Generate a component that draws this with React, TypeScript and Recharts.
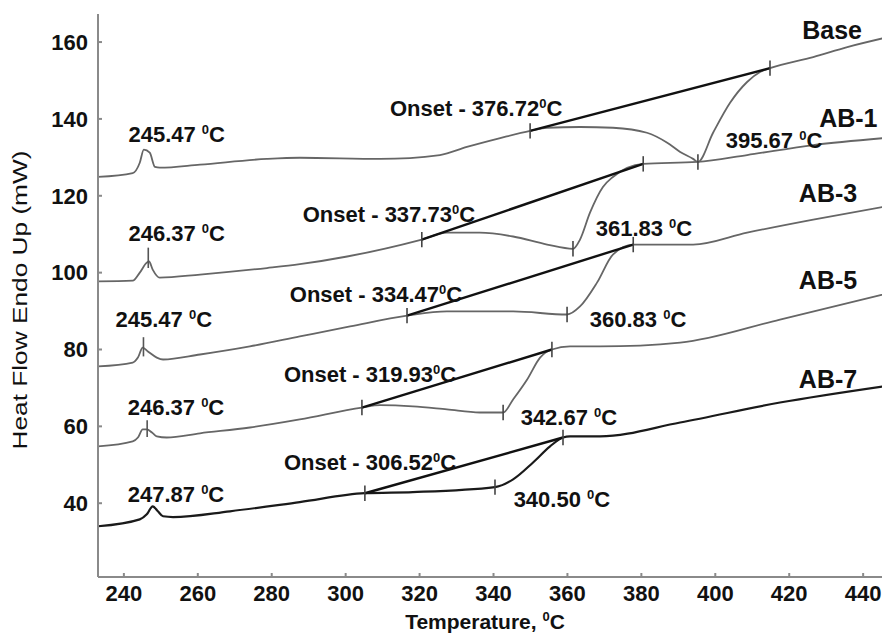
import React from 'react';
import { LineChart, Line, XAxis, YAxis, ReferenceLine, ReferenceDot } from 'recharts';

const xTicks = [240, 260, 280, 300, 320, 340, 360, 380, 400, 420, 440];
const yTicks = [40, 60, 80, 100, 120, 140, 160];

// DSC traces, [temperature, heat flow]
const baseCurve = [
  [233, 124.9], [242.4, 125.9], [244.3, 128.6], [245.4, 132], [247, 131.2], [248.4, 127.5],
  [249.7, 127.3], [260.6, 128.1], [278.7, 129.6], [287.6, 129.9], [309.3, 129.6], [325.5, 130.6],
  [332.8, 132.7], [341.8, 135], [349.9, 136.9], [354.5, 137.7], [363.4, 137.9], [372.3, 137.7],
  [381.5, 136.4], [387, 133.8], [390.5, 131.4], [394, 129.6], [395.3, 128.8], [399.4, 136.4],
  [404, 144.2], [408.6, 149.6], [412.1, 152.2], [414.8, 153.2], [426.5, 156.1], [435.7, 158.7],
  [445.4, 161],
];
const ab1Curve = [
  [233, 97.7], [242.4, 97.9], [244.3, 100], [246.2, 102.6], [246.8, 102.9], [247.8, 100.8],
  [249.7, 98.7], [260.6, 99.5], [278.7, 101.2], [287.6, 102.2], [300.4, 104.2], [320.6, 108.6],
  [327.4, 110.4], [336.3, 110.4], [345.3, 109.4], [354.5, 107.3], [361.5, 106.2], [363.4, 108.6],
  [366.1, 115.6], [369.6, 122.3], [372.3, 124.9], [380.5, 128.3], [395.1, 128.8], [408.6, 130.6],
  [426.5, 133.2], [445.4, 135],
];
const ab3Curve = [
  [233, 75.6], [242.4, 76.6], [243.8, 77.9], [245.1, 80.5], [246.5, 79.5], [248.9, 77.9],
  [250.6, 77.4], [260.6, 78.7], [274.1, 80.8], [287.6, 83.4], [301.2, 86], [316.6, 88.8],
  [327.4, 89.9], [345.3, 89.9], [359.9, 89.1], [363.4, 91.2], [368, 97.4], [372.3, 104.7],
  [377.8, 107.3], [394, 107.3], [408.6, 110.4], [426.5, 113.8], [445.4, 117.1],
];
const ab5Curve = [
  [233, 54.8], [242.4, 56.1], [243.8, 57.1], [245.1, 59.2], [246.2, 59.2], [247.6, 58.4],
  [248.9, 57.4], [251.6, 57.1], [260.6, 58.2], [274.1, 59.7], [287.6, 61.8], [304.4, 64.9],
  [309.3, 65.5], [318.2, 65.2], [327.4, 64.4], [336.3, 63.6], [342.6, 63.6], [345.3, 67],
  [349.1, 72.2], [352.6, 77.9], [355.8, 80], [360.7, 80.8], [368.8, 80.8], [390.5, 81.8],
  [417.5, 87.8], [445.4, 94.3],
];
const ab7Curve = [
  [233, 34], [244.3, 35.8], [246.2, 37.1], [247.8, 39.2], [249.2, 37.9], [250.6, 36.6],
  [253.3, 36.4], [268.7, 37.9], [287.6, 40.3], [305.2, 42.6], [318.2, 42.9], [340.4, 44.2],
  [345.3, 46.2], [350.7, 50.6], [355.3, 54.8], [358.8, 57.1], [360.7, 57.4], [368.8, 57.4],
  [390.5, 61], [417.5, 66.2], [445.4, 70.4],
];

// onset tangent lines
const tangents = [
  [[349.9, 136.9], [414.8, 153.2]],
  [[320.6, 108.6], [380.5, 128.3]],
  [[316.6, 88.8], [377.8, 107.3]],
  [[304.4, 64.9], [355.8, 80]],
  [[305.2, 42.6], [358.8, 57.1]],
];

// small vertical cursor marks
const marks = [
  [349.9, 136.9], [395.3, 128.8], [414.8, 153.2],
  [320.6, 108.6], [361.5, 106.2], [380.5, 128.3],
  [316.6, 88.8], [359.9, 89.1], [377.8, 107.3],
  [304.4, 64.9], [342.6, 63.6], [355.8, 80],
  [305.2, 42.6], [340.4, 44.2], [358.8, 57.1],
];
const peakMarks = [[246.6, 101.2, 106.5], [245.3, 78.2, 83.2], [246.3, 57.2, 61.6]];

const peakLabels = [
  { t: 254.3, v: 136.1, text: '245.47 ' },
  { t: 254.3, v: 110.4, text: '246.37 ' },
  { t: 250.8, v: 87.8, text: '245.47 ' },
  { t: 254.1, v: 64.9, text: '246.37 ' },
  { t: 254.1, v: 42.3, text: '247.87 ' },
];
const onsetLabels = [
  { t: 335.3, v: 142.9, text: 'Onset - 376.72' },
  { t: 311.7, v: 115.3, text: 'Onset - 337.73' },
  { t: 308.2, v: 94.3, text: 'Onset - 334.47' },
  { t: 306.6, v: 73.5, text: 'Onset - 319.93' },
  { t: 306.6, v: 50.6, text: 'Onset - 306.52' },
];
const dipLabels = [
  { t: 415.9, v: 134.6, text: '395.67 ' },
  { t: 380.7, v: 111.7, text: '361.83 ' },
  { t: 379.1, v: 87.8, text: '360.83 ' },
  { t: 360.4, v: 62.3, text: '342.67 ' },
  { t: 358.5, v: 41, text: '340.50 ' },
];
const seriesNames = [
  { t: 431.6, v: 163.1, text: 'Base' },
  { t: 436, v: 140.3, text: 'AB-1' },
  { t: 430.5, v: 120.8, text: 'AB-3' },
  { t: 430.5, v: 98.2, text: 'AB-5' },
  { t: 430.5, v: 72.2, text: 'AB-7' },
];

const FONT = '"Liberation Sans", Arial, Helvetica, sans-serif';

const toRows = (pts: number[][]) => pts.map(([t, v]) => ({ t, v }));

const curves = [
  { key: 'base', pts: baseCurve, color: '#666', w: 1.8 },
  { key: 'ab1', pts: ab1Curve, color: '#666', w: 1.8 },
  { key: 'ab3', pts: ab3Curve, color: '#666', w: 1.8 },
  { key: 'ab5', pts: ab5Curve, color: '#666', w: 1.8 },
  { key: 'ab7', pts: ab7Curve, color: '#1a1a1a', w: 2.2 },
];

const Annot = (props: any) => {
  const { viewBox, text, size = 22, degree = true } = props;
  if (!viewBox) return null;
  const cx = viewBox.x + (viewBox.width || 0) / 2;
  const cy = viewBox.y + (viewBox.height || 0) / 2;
  return (
    <text x={cx} y={cy} dy="0.36em" textAnchor="middle" fontFamily={FONT} fontWeight="bold"
      fontSize={size} fill="#111">
      {text}
      {degree && <tspan fontSize={13} dy={-8}>0</tspan>}
      {degree && <tspan dy={8}>C</tspan>}
    </text>
  );
};

const XTitle = (props: any) => {
  const { viewBox } = props;
  return (
    <text x={viewBox.x + viewBox.width / 2 - 5} y={viewBox.y + 52} textAnchor="middle"
      fontFamily={FONT} fontWeight="bold" fontSize={21} fill="#111">
      Temperature, <tspan fontSize={13} dy={-8}>0</tspan><tspan dy={8}>C</tspan>
    </text>
  );
};

// the original title is drawn a bit stretched along its length
const YTitle = () => (
  <g transform="translate(27 300) rotate(-90) scale(1.25 1)">
    <text x={0} y={0} textAnchor="middle" fontFamily={FONT} fontSize={21} fill="#111">
      Heat Flow Endo Up (mW)
    </text>
  </g>
);

const tickStyle = { fontFamily: FONT, fontWeight: 'bold', fontSize: 22, fill: '#111' } as const;

export default function App() {
  return (
    <div style={{ position: 'absolute', left: 0, top: 0, background: '#fff' }}>
      <LineChart width={883} height={642} margin={{ top: 14, right: 1, bottom: 0, left: 0 }}>
        <XAxis type="number" dataKey="t" domain={[233, 445.1]} ticks={xTicks} allowDataOverflow
          height={65} stroke="#8a8a8a" strokeWidth={2} tickSize={-4} tickMargin={12}
          tick={tickStyle} label={<XTitle />} />
        <YAxis type="number" dataKey="v" domain={[20.8, 167.3]} ticks={yTicks} allowDataOverflow
          width={98} stroke="#8a8a8a" strokeWidth={2} tickSize={-4} tickMargin={14}
          tick={tickStyle} label={<YTitle />} />
        {curves.map((c) => (
          <Line key={c.key} data={toRows(c.pts)} dataKey="v" type="monotone" stroke={c.color}
            strokeWidth={c.w} dot={false} isAnimationActive={false} />
        ))}
        {tangents.map((seg, i) => (
          <Line key={'tan' + i} data={toRows(seg)} dataKey="v" type="linear" stroke="#111"
            strokeWidth={2.4} dot={false} isAnimationActive={false} />
        ))}
        {marks.map(([t, v], i) => (
          <ReferenceLine key={'m' + i} segment={[{ x: t, y: v - 2 }, { x: t, y: v + 2 }]}
            stroke="#444" strokeWidth={1.6} ifOverflow="visible" />
        ))}
        {peakMarks.map(([t, a, b], i) => (
          <ReferenceLine key={'p' + i} segment={[{ x: t, y: a }, { x: t, y: b }]}
            stroke="#555" strokeWidth={1.6} ifOverflow="visible" />
        ))}
        {[...peakLabels, ...onsetLabels, ...dipLabels].map((l, i) => (
          <ReferenceDot key={'l' + i} x={l.t} y={l.v} r={0} fill="none" stroke="none"
            ifOverflow="visible" label={<Annot text={l.text} />} />
        ))}
        {seriesNames.map((l, i) => (
          <ReferenceDot key={'n' + i} x={l.t} y={l.v} r={0} fill="none" stroke="none"
            ifOverflow="visible" label={<Annot text={l.text} size={25} degree={false} />} />
        ))}
      </LineChart>
    </div>
  );
}
